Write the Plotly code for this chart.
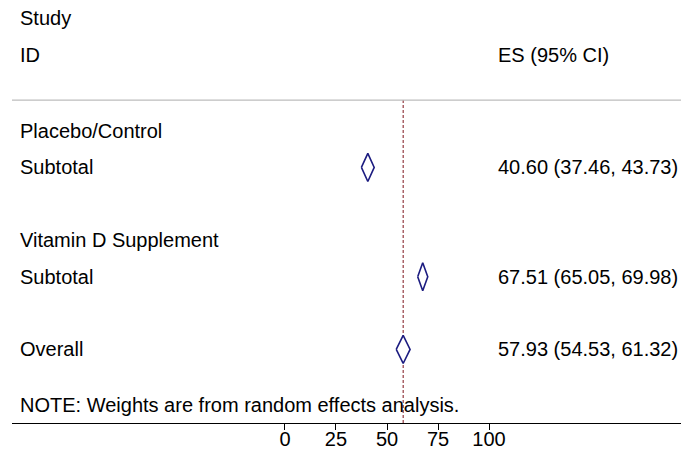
import plotly.graph_objects as go

# Subgroup pooled estimates (random effects) and overall estimate
groups = ["Placebo/Control", "Vitamin D Supplement"]
es = [40.60, 67.51]
ci_low = [37.46, 65.05]
ci_high = [43.73, 69.98]

overall_es = 57.93
overall_low = 54.53
overall_high = 61.32

tick_vals = [0, 25, 50, 75, 100]
note = "NOTE: Weights are from random effects analysis."

# Layout of rows (row units, top to bottom)
group_rows = [0, 3]
subtotal_rows = [1, 4]
overall_row = 6
header_rows = {"Study": -3.1, "ID": -2.1}
rule_row = -0.85
note_row = 7.53

W, H = 681, 459
FONT = "Liberation Sans, Arial, Helvetica, sans-serif"
FS = 20
NAVY = "#1c1c80"
HALF_H = 0.385


def fmt(e, l, h):
    return f"{e:.2f} ({l:.2f}, {h:.2f})"


def diamond(e, l, h, row):
    return go.Scatter(
        x=[l, e, h, e, l],
        y=[row, row - HALF_H, row, row + HALF_H, row],
        mode="lines",
        fill="toself",
        fillcolor="white",
        line=dict(color=NAVY, width=1.6),
        hoverinfo="skip",
        showlegend=False,
    )


fig = go.Figure()

# Null-reference dashed line at the overall estimate
fig.add_shape(
    type="line", xref="x", yref="y",
    x0=overall_es, x1=overall_es, y0=rule_row, y1=8.02,
    line=dict(color="#8a2a30", width=1.1, dash="3px,2px"),
    layer="below",
)

for e, l, h, r in zip(es, ci_low, ci_high, subtotal_rows):
    fig.add_trace(diamond(e, l, h, r))
fig.add_trace(diamond(overall_es, overall_low, overall_high, overall_row))

# Header rule
fig.add_shape(
    type="line", xref="x domain", yref="y",
    x0=0, x1=1, y0=rule_row, y1=rule_row,
    line=dict(color="#bdbdbd", width=1.2),
)

annotations = []


def label(text, xpx, row):
    annotations.append(dict(
        x=xpx / W, y=row, xref="paper", yref="y",
        text=text, showarrow=False, xanchor="left", yanchor="middle",
        font=dict(family=FONT, size=FS, color="black"),
    ))


label("Study", 18, header_rows["Study"])
label("ID", 18, header_rows["ID"])
label("ES (95% CI)", 496, header_rows["ID"])

for g, r in zip(groups, group_rows):
    label(g, 18, r)
for e, l, h, r in zip(es, ci_low, ci_high, subtotal_rows):
    label("Subtotal", 18, r)
    label(fmt(e, l, h), 496, r)
label("Overall", 18, overall_row)
label(fmt(overall_es, overall_low, overall_high), 496, overall_row)
label(note, 18, note_row)

fig.update_layout(
    width=W, height=H,
    margin=dict(l=0, r=0, t=0, b=0),
    paper_bgcolor="white", plot_bgcolor="white",
    annotations=annotations,
    showlegend=False,
    xaxis=dict(
        domain=[12 / W, 1], range=[-133.8, 194.1],
        showgrid=False, zeroline=False,
        showline=True, linecolor="black", linewidth=1.2,
        ticks="outside", ticklen=6, tickwidth=1.2, tickcolor="black",
        ticklabelstandoff=-8,
        tickvals=tick_vals, ticktext=[str(v) for v in tick_vals],
        tickfont=dict(family=FONT, size=FS, color="black"),
        fixedrange=True,
    ),
    yaxis=dict(
        domain=[36 / H, 1], range=[8.02, -3.6],
        visible=False, fixedrange=True,
    ),
)

fig.write_html("out.html")
